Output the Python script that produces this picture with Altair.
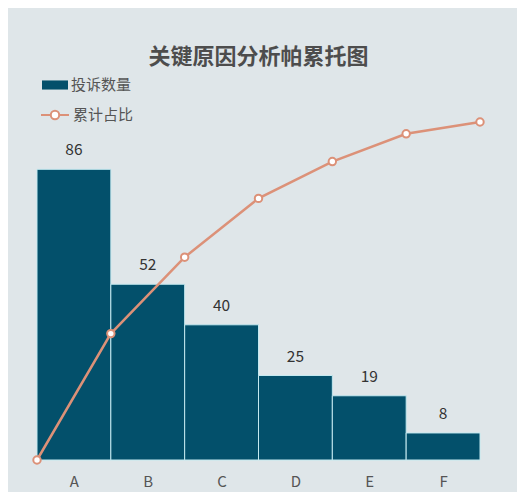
import altair as alt
import pandas as pd

categories = ["A", "B", "C", "D", "E", "F"]
counts = [86, 52, 40, 25, 19, 8]
cum_pct = [0.0, 37.4, 60.0, 77.4, 88.3, 96.5, 100.0]  # at bar boundaries
bar_series = "投诉数量"
line_series = "累计占比"
title_text = "关键原因分析帕累托图"

BAR = "#03506b"
LINE = "#dc9178"
BG = "#dfe6e9"
FONT = "Noto Sans CJK SC"

bars_df = pd.DataFrame({
    "cat": categories,
    "x0": list(range(len(categories))),
    "x1": [i + 1 for i in range(len(categories))],
    "xm": [i + 0.5 for i in range(len(categories))],
    "count": counts,
    "series": bar_series,
})
line_df = pd.DataFrame({
    "x": list(range(len(cum_pct))),
    "pct": [v / 100 for v in cum_pct],
    "series": line_series,
})

label_expr = "[" + ",".join(f"'{c}'" for c in categories) + "][floor(datum.value)]"
xscale = alt.Scale(domain=[0, len(categories)], nice=False, zero=False)
xaxis = alt.Axis(values=[i + 0.5 for i in range(len(categories))], labelExpr=label_expr,
                 title=None, domain=False, ticks=False, grid=False, labelFontSize=15,
                 labelColor="#555555", labelPadding=14, labelFont=FONT)

ybar = alt.Scale(domain=[0, 100], nice=False)

bars = alt.Chart(bars_df).mark_rect(stroke="#c4e9f0", strokeWidth=1).encode(
    x=alt.X("x0:Q", scale=xscale, axis=xaxis),
    x2="x1:Q",
    y=alt.Y("count:Q", scale=ybar, axis=None),
    y2=alt.datum(0),
    fill=alt.Fill("series:N", scale=alt.Scale(range=[BAR]),
                  legend=alt.Legend(title=None, orient="none", legendX=5, legendY=-50,
                                    symbolType="M-1,-0.35H1V0.35H-1Z", symbolSize=676,
                                    symbolStrokeWidth=0, labelFontSize=15, labelColor="#555555",
                                    labelFont=FONT, labelOffset=3, padding=0)),
)

texts = alt.Chart(bars_df).mark_text(baseline="bottom", dy=-11, fontSize=15.5,
                                     color="#333333", font=FONT).encode(
    x=alt.X("xm:Q", scale=xscale),
    y=alt.Y("count:Q", scale=ybar, axis=None),
    text="count:Q",
)

bar_layer = alt.layer(bars, texts)

legend_line = alt.Legend(title=None, orient="none", legendX=3, legendY=-22,
                         symbolType="M-1,0H-0.3M0.3,0H1M0.3,0A0.3,0.3,0,1,1,-0.3,0A0.3,0.3,0,1,1,0.3,0",
                         symbolSize=784, symbolStrokeWidth=2, symbolFillColor="white",
                         labelFontSize=15, labelColor="#555555", labelFont=FONT,
                         labelOffset=3, padding=0)
yline = alt.Scale(domain=[0, 1], nice=False)

line = alt.Chart(line_df).mark_line(strokeWidth=2.5).encode(
    x=alt.X("x:Q", scale=xscale),
    y=alt.Y("pct:Q", scale=yline, axis=None),
    stroke=alt.Stroke("series:N", scale=alt.Scale(range=[LINE]), legend=legend_line),
)
points = alt.Chart(line_df).mark_point(filled=False, fill="white", fillOpacity=1, size=55,
                                       strokeWidth=2, opacity=1).encode(
    x=alt.X("x:Q", scale=xscale),
    y=alt.Y("pct:Q", scale=yline, axis=None),
    stroke=alt.Stroke("series:N", scale=alt.Scale(range=[LINE]), legend=legend_line),
)
line_layer = alt.layer(line, points)

chart = alt.layer(bar_layer, line_layer).resolve_scale(y="independent").properties(
    width=443, height=338,
    autosize=alt.AutoSizeParams(type="none"),
    padding={"left": 29, "top": 114, "right": 37, "bottom": 32},
    background=BG,
    title=alt.TitleParams(title_text, fontSize=22, fontWeight="bold", color="#4d4d4d",
                          font=FONT, anchor="middle", offset=3),
).configure_view(stroke=None)

chart.save("out.html", embed_options={"renderer": "svg", "actions": False})
